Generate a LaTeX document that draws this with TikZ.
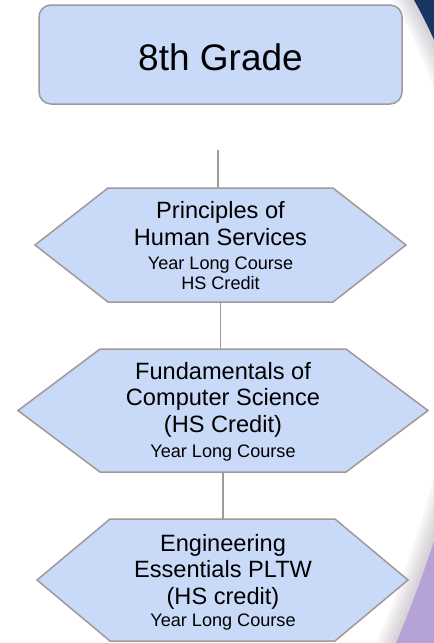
\documentclass[tikz,border=0pt]{standalone}
\usepackage{fontspec}
\setmainfont{Liberation Sans}
\definecolor{boxfill}{HTML}{C9DAF8}
\definecolor{boxline}{HTML}{A09899}
\definecolor{navyband}{HTML}{173762}
\definecolor{lilac}{HTML}{B5A3D8}
\definecolor{shadowtone}{HTML}{5E4E60}
\newcommand\bigfont[1]{\fontsize{23.6}{#1}\selectfont}
\newcommand\smallfont{\fontsize{18.1}{21}\selectfont}
\newcommand\hexpath[2]{\path[outline] (#1.west) -- ([xshift=#2]#1.north west) -- ([xshift=-#2]#1.north east) -- (#1.east) -- ([xshift=-#2]#1.south east) -- ([xshift=#2]#1.south west) -- cycle;}
\begin{document}
\begin{tikzpicture}[x=1pt,y=-1pt,
  outline/.style={draw=boxline,line width=1.5pt,fill=boxfill,line join=miter},
  gradebox/.style={outline,rounded corners=12pt,minimum width=363pt,minimum height=99pt,inner sep=0pt,text height=31pt,text depth=0pt,font=\fontsize{37}{44}\selectfont},
  hexframe/.style={inner sep=0pt,outer sep=0pt},
  coursetext/.style={anchor=base,inner sep=0pt,outer sep=0pt},
  link/.style={draw=boxline,line width=1.5pt}]
\useasboundingbox (0,0) rectangle (434,643);
\fill[white] (0,0) rectangle (434,643);
% background decoration
\begin{scope}
  \clip (0,0) rectangle (434,643);
  \foreach \w in {36,29,22,15,8}
    \draw[shadowtone,opacity=0.05,line width=\w pt] (403,-20) -- (414,0) .. controls (526,200) and (480,443) .. (396,643) -- (388,663);
  \begin{scope}
    \clip (0,-30) rectangle (520,300);
    \fill[navyband] (403,-20) -- (414,0) .. controls (526,200) and (480,443) .. (396,643) -- (388,663) -- (520,663) -- (520,-20) -- cycle;
  \end{scope}
  \begin{scope}
    \clip (0,300) rectangle (520,700);
    \fill[lilac] (403,-20) -- (414,0) .. controls (526,200) and (480,443) .. (396,643) -- (388,663) -- (520,663) -- (520,-20) -- cycle;
  \end{scope}
\end{scope}
% top box
\node[gradebox] (g8) at (220.5,54.5) {8th Grade};
% hexagon frames
\node[hexframe,minimum width=371pt,minimum height=114pt] (h1) at (220.5,245) {};
\node[hexframe,minimum width=410pt,minimum height=123pt] (h2) at (223,410.5) {};
\node[hexframe,minimum width=371pt,minimum height=122pt] (h3) at (222.5,580) {};
\hexpath{h1}{73pt}
\hexpath{h2}{82pt}
\hexpath{h3}{73pt}
% texts
\node[coursetext] (t1) at (220.5,218.3) {\bigfont{26.7}\begin{tabular}[t]{@{}c@{}}Principles of\\Human Services\\[-2.7pt]\smallfont Year Long Course\\[-6.4pt]\smallfont HS Credit\end{tabular}};
\node[coursetext] (t2) at (223,379) {\bigfont{26.8}\begin{tabular}[t]{@{}c@{}}Fundamentals of\\Computer Science\\(HS Credit)\\[-1.5pt]\smallfont Year Long Course\end{tabular}};
\node[coursetext] (t3) at (223,551) {\bigfont{26.5}\begin{tabular}[t]{@{}c@{}}Engineering\\Essentials PLTW\\(HS credit)\\[-3.8pt]\smallfont Year Long Course\end{tabular}};
% connectors
\coordinate (c0) at (218,150);
\draw[link] (c0) -- (c0 |- h1.north);
\draw[link] (h1.south) -- (h1.south |- h2.north);
\draw[link] (h2.south) -- (h2.south |- h3.north);
\end{tikzpicture}
\end{document}
